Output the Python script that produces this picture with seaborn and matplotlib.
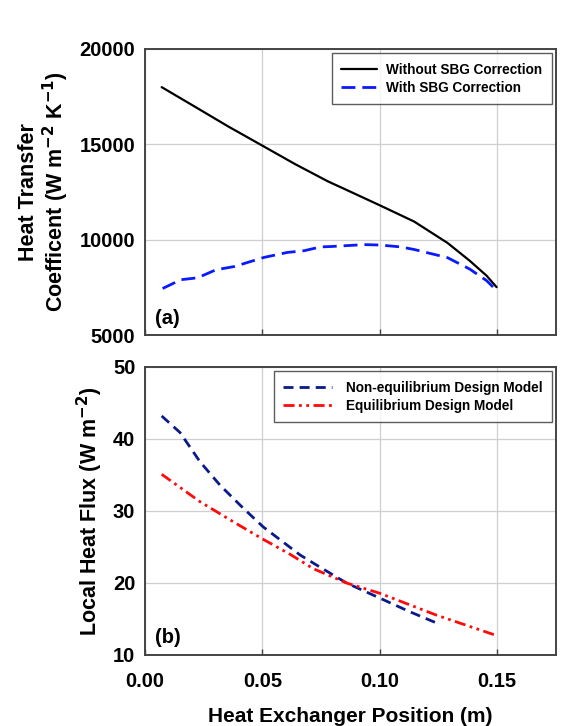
import matplotlib

matplotlib.use("Agg")
import matplotlib.pyplot as plt  # noqa: E402
import seaborn as sns  # noqa: E402

# panel (a): heat transfer coefficient (W m-2 K-1)
htc_x_plain = [0.0071, 0.0213, 0.0354, 0.0497, 0.0638, 0.078, 0.0851, 0.100,
               0.1146, 0.1288, 0.1383, 0.1454, 0.1497]
htc_plain = [18000, 16970, 15940, 14950, 13970, 13050, 12650, 11800,
             10950, 9830, 8890, 8115, 7510]

htc_x_sbg = [0.0075, 0.0153, 0.0224, 0.0302, 0.038, 0.0507, 0.0606, 0.0677, 0.0748,
             0.0791, 0.0933, 0.100, 0.1088, 0.1146, 0.1288, 0.1383, 0.1454, 0.1497]
htc_sbg = [7440, 7900, 8000, 8420, 8590, 9070, 9330, 9420, 9620,
           9640, 9740, 9720, 9620, 9485, 9057, 8455, 7857, 7340]

# panel (b): local heat flux (W m-2)
flux_x_noneq = [0.0071, 0.0149, 0.0234, 0.0319, 0.0418, 0.0503, 0.066, 0.073, 0.0858,
                0.100, 0.1128, 0.1255]
flux_noneq = [43.2, 40.9, 36.85, 33.6, 30.4, 27.8, 23.9, 22.5, 20.0, 17.9, 16.0, 14.26]

flux_x_eq = [0.0071, 0.0234, 0.0376, 0.0503, 0.0617, 0.0716, 0.0858, 0.100, 0.124, 0.1497]
flux_eq = [35.1, 31.3, 28.5, 26.07, 24.0, 22.0, 20.0, 18.57, 15.55, 12.7]

sns.set_theme(style="whitegrid")
plt.rcParams["font.family"] = ["Liberation Sans", "DejaVu Sans"]
plt.rcParams["font.weight"] = "bold"
plt.rcParams["mathtext.default"] = "bf"
plt.rcParams["text.color"] = "black"
plt.rcParams["axes.labelcolor"] = "black"
plt.rcParams["xtick.color"] = "black"
plt.rcParams["ytick.color"] = "black"

figure = plt.figure(figsize=(5.83, 7.26), dpi=100)
top = figure.add_axes([145 / 583, 1 - 335 / 726, 411 / 583, 286 / 726])
bottom = figure.add_axes([145 / 583, 1 - 655 / 726, 411 / 583, 288 / 726])

sns.lineplot(x=htc_x_plain, y=htc_plain, ax=top, color="black", linewidth=1.6,
             label="Without SBG Correction", sort=False)
sns.lineplot(x=htc_x_sbg, y=htc_sbg, ax=top, color="#0a1aff", linewidth=2.0,
             linestyle=(0, (5, 2.5)), label="With SBG Correction", sort=False)

sns.lineplot(x=flux_x_noneq, y=flux_noneq, ax=bottom, color="#0b1a8a", linewidth=2.0,
             linestyle=(0, (3.6, 2.2)), label="Non-equilibrium Design Model", sort=False)
sns.lineplot(x=flux_x_eq, y=flux_eq, ax=bottom, color="#ff0a0a", linewidth=2.0,
             linestyle=(0, (4, 1.6, 1, 1.6, 1, 1.6)), label="Equilibrium Design Model",
             sort=False)

legend_style = {top: (2.65, 0.65), bottom: (3.6, 1.0)}
for axis in (top, bottom):
    axis.set_xlim(0, 0.175)
    axis.set_xticks([0.0, 0.05, 0.10, 0.15])
    axis.grid(True, color="#cfcfcf", linewidth=0.9)
    axis.set_facecolor("white")
    for spine in axis.spines.values():
        spine.set_edgecolor("#444444")
        spine.set_linewidth(1.4)
    axis.tick_params(direction="in", length=4, width=1.0, color="#444444",
                     labelsize=14.5, pad=7, bottom=True, left=False)
    axis.tick_params(axis="x", pad=12)
    handlelength, textpad = legend_style[axis]
    legend = axis.legend(loc="upper right", fontsize=9.8, frameon=True, fancybox=False,
                         edgecolor="#333333", handlelength=handlelength,
                         handletextpad=textpad, borderpad=0.7, labelspacing=0.3,
                         borderaxespad=0.3)
    legend.get_frame().set_linewidth(1.0)
    for text in legend.get_texts():
        text.set_fontweight("bold")

top.set_ylim(5000, 20000)
top.set_yticks([5000, 10000, 15000, 20000])
top.tick_params(labelbottom=False)
top.set_ylabel("Heat Transfer\nCoefficent (W m$^{-2}$ K$^{-1}$)", fontsize=15.5,
               fontweight="bold", labelpad=6, linespacing=1.1)
top.text(0.025, 0.04, "(a)", transform=top.transAxes, fontsize=14.5, fontweight="bold")

bottom.set_ylim(10, 50)
bottom.set_yticks([10, 20, 30, 40, 50])
bottom.set_xticklabels(["0.00", "0.05", "0.10", "0.15"])
for axis in (top, bottom):
    for lab in axis.get_xticklabels() + axis.get_yticklabels():
        lab.set_fontweight("bold")
bottom.set_ylabel("Local Heat Flux (W m$^{-2}$)", fontsize=15.5, fontweight="bold",
                  labelpad=6)
bottom.set_xlabel("Heat Exchanger Position (m)", fontsize=15, fontweight="bold",
                  labelpad=12)
bottom.text(0.025, 0.04, "(b)", transform=bottom.transAxes, fontsize=14.5,
            fontweight="bold")

figure.savefig("out.png", dpi=100)
plt.close(figure)
